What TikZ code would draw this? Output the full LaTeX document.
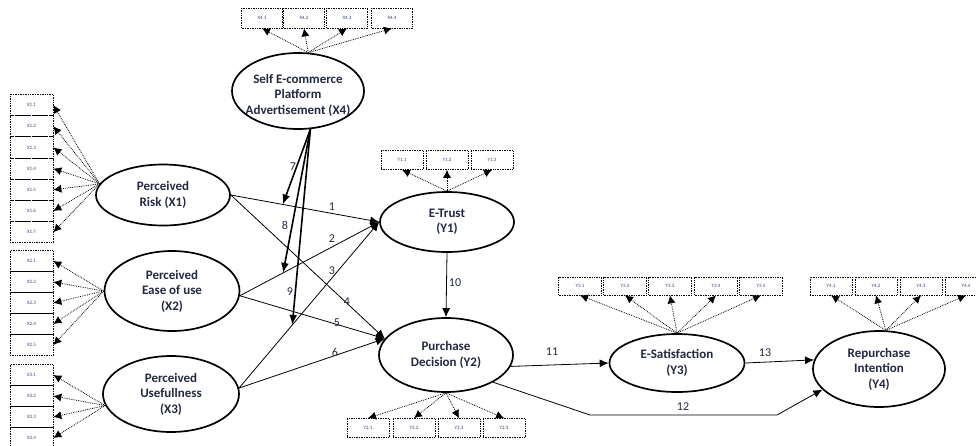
\documentclass[tikz,border=0pt]{standalone}
\usepackage{fontspec}
\setmainfont{Carlito}
\usetikzlibrary{shapes.geometric,arrows.meta}
\definecolor{ink}{RGB}{35,40,65}
\definecolor{boxink}{RGB}{50,70,120}

\begin{document}
\begin{tikzpicture}[x=1pt,y=-1pt,
    lat/.style 2 args={ellipse,draw,line width=1.7pt,inner sep=0pt,
      minimum width=#1,minimum height=#2},
    lattext/.style={align=center,text=ink,inner sep=0pt,
      font=\fontsize{13}{15.5}\selectfont\bfseries},
    ind/.style={draw,densely dotted,line width=0.7pt,inner sep=0pt,
      minimum width=42pt,minimum height=19pt,text=boxink,
      font=\fontsize{5}{6}\selectfont},
    load/.style={densely dotted,line width=0.8pt,-{Latex[length=8pt,width=8pt]}},
    reg/.style={line width=0.8pt,-{Latex[length=9pt,width=8pt]}},
    moder/.style={line width=1.6pt,-{Latex[length=10pt,width=8pt]}},
    num/.style={text=ink,inner sep=0pt,font=\fontsize{12}{14}\selectfont}]
  \useasboundingbox (0,0) rectangle (976,445);

  % latent variables
  \node[lat={134pt}{61pt},label={[lattext]center:Perceived\\Risk (X1)}] (x1) at (163,195) {};
  \node[lat={135pt}{80pt},label={[lattext]center:Perceived\\Ease of use\\(X2)}] (x2) at (172,291) {};
  \node[lat={136pt}{76pt},label={[lattext]center:Perceived\\Usefullness\\(X3)}] (x3) at (171,394) {};
  \node[lat={132pt}{76pt},label={[lattext,yshift=-4pt]center:Self E-commerce\\Platform\\Advertisement (X4)}] (x4) at (298,91) {};
  \node[lat={134pt}{60pt},label={[lattext]center:E-Trust\\(Y1)}] (y1) at (447,222) {};
  \node[lat={134pt}{74pt},label={[lattext]center:Purchase\\Decision (Y2)}] (y2) at (446,355) {};
  \node[lat={135pt}{58pt},label={[lattext]center:E-Satisfaction\\(Y3)}] (y3) at (677,363) {};
  \node[lat={132pt}{76pt},label={[lattext]center:Repurchase\\Intention\\(Y4)}] (y4) at (879,369) {};

  % indicators
  \foreach \i in {1,...,7}{
    \node[ind,minimum width=43pt,minimum height=21.2pt] (x1\i) at (31.5,{105+21.2*(\i-1)}) {X1.\i};
    \draw[load] (x1.170) -- (x1\i.east);
  }
  \foreach \i in {1,...,5}{
    \node[ind,minimum width=43pt,minimum height=21pt] (x2\i) at (31.5,{261+21*(\i-1)}) {X2.\i};
    \draw[load] (x2.west) -- (x2\i.east);
  }
  \foreach \i in {1,...,4}{
    \node[ind,minimum width=43pt,minimum height=21pt] (x3\i) at (31.5,{375+21*(\i-1)}) {X3.\i};
    \draw[load] (x3.190) -- (x3\i.east);
  }
  \foreach \i/\px in {1/262,2/304,3/347,4/392}{
    \node[ind,minimum width=41pt,minimum height=20pt] (x4\i) at (\px,18) {X4.\i};
    \draw[load] (x4.75) -- (x4\i.south);
  }
  \foreach \i/\px in {1/402,2/447,3/492}{
    \node[ind] (y1\i) at (\px,160) {Y1.\i};
    \draw[load] (y1.north) -- (y1\i.south);
  }
  \foreach \i/\px/\t in {1/368/Y2.1,2/414/Y2.2,3/459/Y2.3,4/504/Y2.3}{
    \node[ind] (y2\i) at (\px,428) {\t};
    \draw[load] (y2.south) -- (y2\i.north);
  }
  \foreach \i/\px in {1/580,2/625,3/670,4/716,5/761}{
    \node[ind,minimum width=43pt,minimum height=18pt] (y3\i) at (\px,286) {Y3.\i};
    \draw[load] (y3.north) -- (y3\i.south);
  }
  \foreach \i/\px in {1/831,2/876,3/921,4/966}{
    \node[ind,minimum height=18pt] (y4\i) at (\px,286) {Y4.\i};
    \draw[load] (y4.80) -- (y4\i.south);
  }

  % structural paths
  \draw[reg] (x1.east) -- coordinate[pos=0.35] (m7) (y1.west);
  \draw[reg] (x2.-4) -- coordinate[pos=0.31] (m8) (y1.west);
  \draw[reg] (x3.5) -- coordinate[pos=0.38] (m9) (y1.west);
  \draw[reg] (x1.east) -- (y2.165);
  \draw[reg] (x2.-4) -- (y2.165);
  \draw[reg] (x3.5) -- (y2.165);
  \draw[moder] (x4.-72) -- (m7);
  \draw[moder] (x4.-72) -- (m8);
  \draw[moder] (x4.-72) -- (m9);
  \draw[reg] (y1.south) -- (y2.north);
  \draw[reg] (y2.-10) -- (y3.west);
  \coordinate (k1) at (590,415);
  \coordinate (k2) at (777,415);
  \draw[reg] (y2.-30) -- (k1) -- (k2) -- (y4.200);
  \draw[reg] (y3.east) -- (y4.172);

  % path numbers
  \foreach \n/\px/\py in {1/332/207,2/332/239,3/332/271,4/347/302,5/337/323,
      6/335/352,7/293/167,8/285/225,9/290/292,10/455/283,11/552/352,
      12/683/407,13/765/353}
    \node[num] (n\n) at (\px,\py) {\n};
\end{tikzpicture}
\end{document}
